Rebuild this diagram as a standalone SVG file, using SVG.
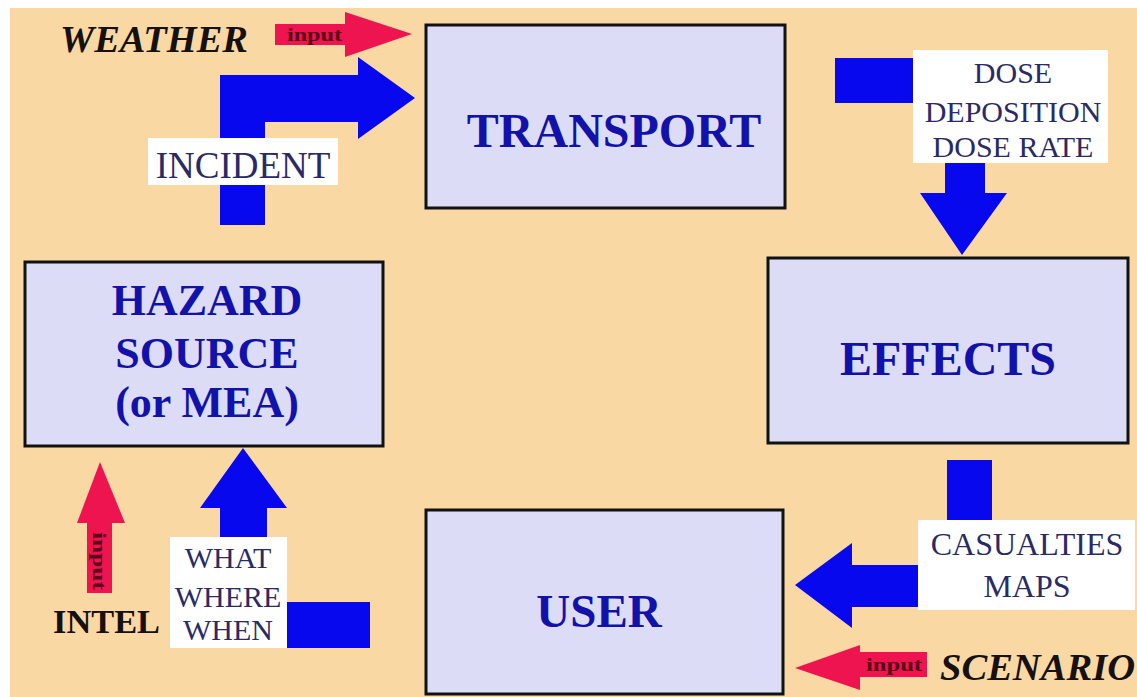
<svg xmlns="http://www.w3.org/2000/svg" width="1137" height="697" viewBox="0 0 1137 697">
<style>
.box{fill:#dcdcf7;stroke:#111;stroke-width:3}
.big{font-family:"Liberation Serif",serif;font-weight:bold;fill:#1212aa;text-anchor:middle}
.lbl{font-family:"Liberation Serif",serif;fill:#2a2a66;text-anchor:middle}
.lblbg{fill:#ffffff}
.flow{fill:#0808ee}
.inp{fill:#ee1450}
.inpt{font-family:"Liberation Serif",serif;font-weight:bold;font-size:18px;fill:#5a0018}
.src{font-family:"Liberation Serif",serif;font-weight:bold;fill:#161010}
</style>
<rect x="0" y="0" width="1137" height="697" fill="#ffffff"/>
<rect x="10" y="8" width="1127" height="689" fill="#f9d8a4"/>

<g id="connectors">
  <!-- incident L arrow hazard -> transport -->
  <path class="flow" d="M220,225 L220,75 L358,75 L358,57 L415,98 L358,139 L358,122 L265,122 L265,225 Z"/>
  <!-- transport -> effects -->
  <rect class="flow" x="835" y="58" width="78" height="45"/>
  <path class="flow" d="M945,163 L985,163 L985,193 L1007,193 L962,255 L920,193 L945,193 Z"/>
  <!-- effects -> user -->
  <rect class="flow" x="947" y="460" width="45" height="60"/>
  <path class="flow" d="M918,565 L852,565 L852,543 L795,585 L852,628 L852,607 L918,607 Z"/>
  <!-- user -> hazard (what where when) -->
  <rect class="flow" x="287" y="602" width="83" height="46"/>
  <path class="flow" d="M220,537 L220,508 L200,508 L243,448 L287,508 L267,508 L267,537 Z"/>
  <!-- input arrows -->
  <path class="inp" d="M275,24 L345,24 L345,12 L412,34 L345,57 L345,45 L275,45 Z"/>
  <path class="inp" d="M927,652 L860,652 L860,645 L795,668 L860,690 L860,677 L927,677 Z"/>
  <path class="inp" d="M87,593 L87,523 L77,523 L100,462 L125,523 L112,523 L112,593 Z"/>
  <text class="inpt" x="287" y="41" textLength="55" lengthAdjust="spacingAndGlyphs">input</text>
  <text class="inpt" x="866" y="671" textLength="56" lengthAdjust="spacingAndGlyphs">input</text>
  <text class="inpt" transform="translate(93,532) rotate(90)" textLength="58" lengthAdjust="spacingAndGlyphs">input</text>
</g>

<g id="transport">
  <rect class="box" x="426" y="25" width="359" height="183"/>
  <text class="big" x="614" y="147" font-size="48">TRANSPORT</text>
</g>
<g id="hazard-source">
  <rect class="box" x="25" y="262" width="358" height="184"/>
  <text class="big" x="207" y="315" font-size="44">HAZARD</text>
  <text class="big" x="207" y="368" font-size="44">SOURCE</text>
  <text class="big" x="207" y="417" font-size="44">(or MEA)</text>
</g>
<g id="effects">
  <rect class="box" x="768" y="258" width="360" height="185"/>
  <text class="big" x="948" y="375" font-size="48">EFFECTS</text>
</g>
<g id="user">
  <rect class="box" x="426" y="510" width="357" height="184"/>
  <text class="big" x="599" y="627" font-size="47">USER</text>
</g>

<g id="label-incident">
  <rect class="lblbg" x="148" y="138" width="190" height="47"/>
  <text class="lbl" x="243" y="178" font-size="37">INCIDENT</text>
</g>
<g id="label-dose">
  <rect class="lblbg" x="913" y="50" width="195" height="113"/>
  <text class="lbl" x="1013" y="83" font-size="30">DOSE</text>
  <text class="lbl" x="1013" y="122" font-size="30">DEPOSITION</text>
  <text class="lbl" x="1013" y="157" font-size="30">DOSE RATE</text>
</g>
<g id="label-casualties">
  <rect class="lblbg" x="918" y="520" width="217" height="90"/>
  <text class="lbl" x="1027" y="555" font-size="32">CASUALTIES</text>
  <text class="lbl" x="1027" y="597" font-size="32">MAPS</text>
</g>
<g id="label-www">
  <rect class="lblbg" x="170" y="537" width="117" height="111"/>
  <text class="lbl" x="228" y="568" font-size="30">WHAT</text>
  <text class="lbl" x="228" y="607" font-size="30">WHERE</text>
  <text class="lbl" x="228" y="640" font-size="30">WHEN</text>
</g>

<g id="weather">
  <text class="src" x="60" y="52" font-size="37" font-style="italic" textLength="188" lengthAdjust="spacingAndGlyphs">WEATHER</text>
</g>
<g id="scenario">
  <text class="src" x="940" y="680" font-size="38" font-style="italic" textLength="195" lengthAdjust="spacingAndGlyphs">SCENARIO</text>
</g>
<g id="intel">
  <text class="src" x="53" y="633" font-size="34" textLength="107" lengthAdjust="spacingAndGlyphs">INTEL</text>
</g>
</svg>
